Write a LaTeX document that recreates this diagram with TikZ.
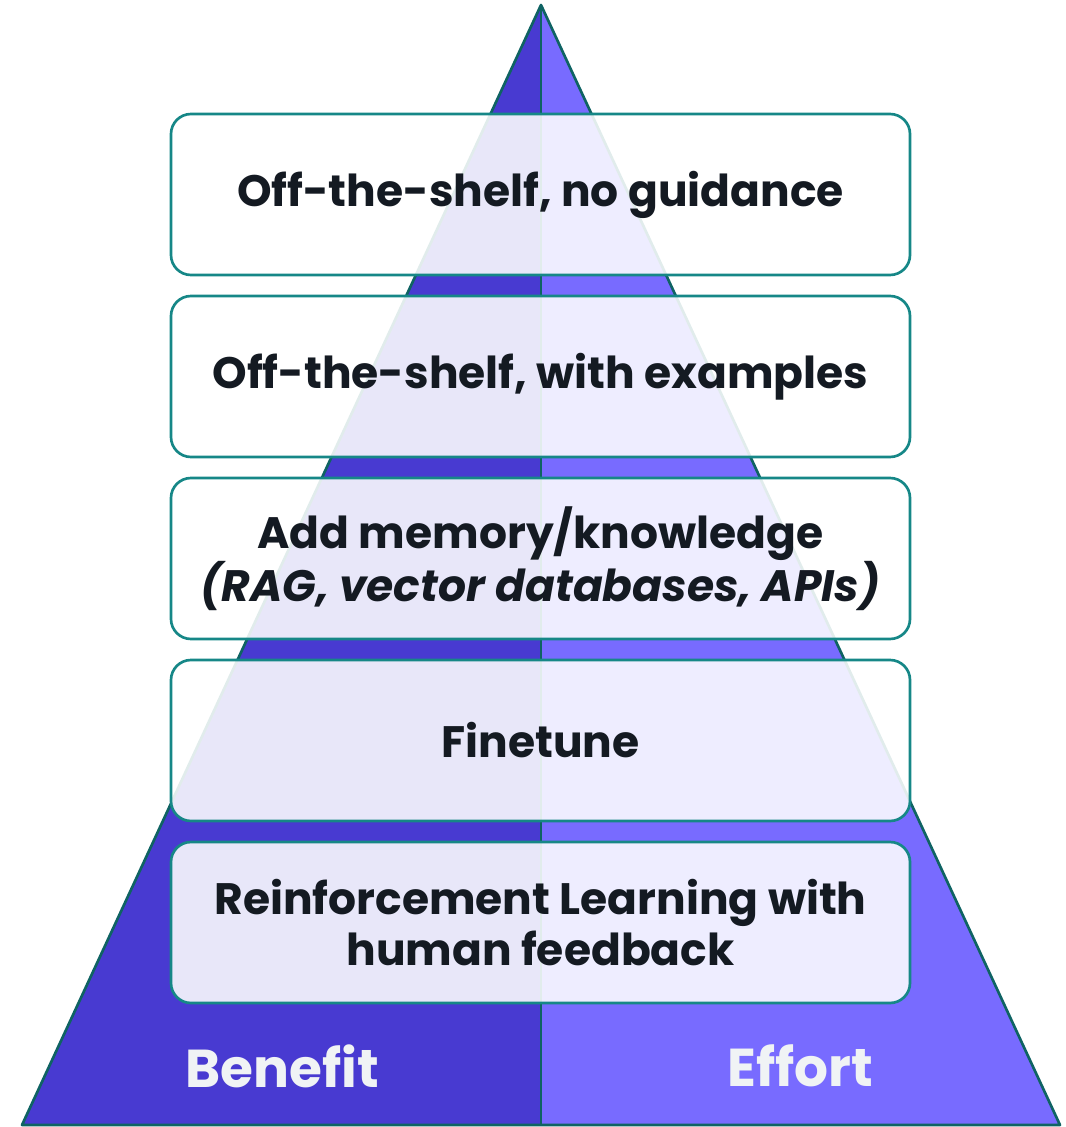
\documentclass[tikz,border=0pt]{standalone}
\usepackage{fontspec}
\setmainfont{Poppins}
\definecolor{lefthalf}{HTML}{483AD1}
\definecolor{righthalf}{HTML}{786BFF}
\definecolor{edge}{HTML}{0F6363}
\definecolor{boxedge}{HTML}{168787}
\definecolor{ink}{HTML}{141A22}
\definecolor{pale}{HTML}{F0F3F5}
\begin{document}
\begin{tikzpicture}[x=0.75pt,y=-0.75pt,
  tier/.style={draw=boxedge,line width=2pt,fill=white,fill opacity=0.88,text opacity=1,
    rounded corners=15pt,minimum width=739*0.75pt,minimum height=161*0.75pt,
    text=ink,font=\bfseries\fontsize{33}{38}\selectfont,align=center,inner sep=0pt},
  half/.style={draw=edge,line width=2pt,line join=round},
  sidelabel/.style={text=pale,font=\bfseries\fontsize{40}{46}\selectfont}]
\useasboundingbox (0,0) rectangle (1066,1127);
\coordinate (apex) at (541,5);
\coordinate (bl) at (22,1125);
\coordinate (br) at (1060,1125);
\coordinate (bm) at (541,1125);
\fill[lefthalf] (apex) -- (bl) -- (bm) -- cycle;
\fill[righthalf] (apex) -- (bm) -- (br) -- cycle;
\draw[half] (apex) -- (bl) -- (br) -- cycle;
\draw[half] (apex) -- (bm);
\node[tier] (t1) at (540.5,194.5) {Off-the-shelf, no guidance};
\node[tier] (t2) at (540.5,376.5) {Off-the-shelf, with examples};
\node[tier] (t3) at (540.5,558.5) {Add memory/knowledge\\\itshape (RAG, vector databases, APIs)};
\node[tier] (t4) at (540.5,740.5) {Finetune};
\node[tier] (t5) at (540.5,922.5) {Reinforcement Learning with\\human feedback};
\node[sidelabel] (benefit) at (282,1066) {Benefit};
\node[sidelabel] (effort) at (800,1066) {Effort};
\end{tikzpicture}
\end{document}
